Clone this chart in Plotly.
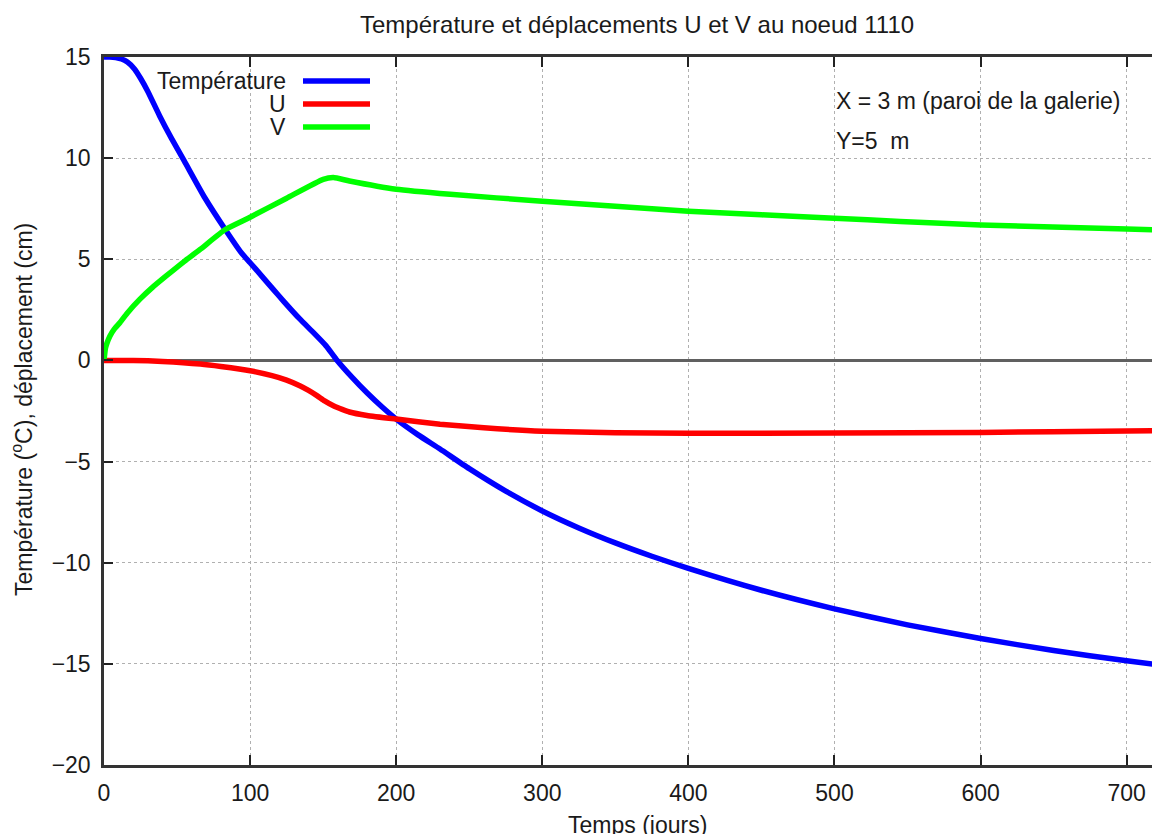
import plotly.graph_objects as go

# ---- data ----
days_T = [0, 4, 8, 12, 16, 21, 25, 30, 38, 46, 55, 69, 83, 94, 100, 108, 116, 123, 134,
          143, 152, 159, 170, 180, 190, 200, 215, 230, 250, 275, 300, 325, 350, 375, 400,
          450, 500, 550, 600, 650, 700, 723]
temperature = [15.0, 15.0, 14.97, 14.9, 14.75, 14.4, 13.95, 13.3, 12.1, 11.0, 9.85, 8.04,
               6.47, 5.32, 4.83, 4.17, 3.5, 2.92, 2.05, 1.4, 0.72, 0.05, -0.85, -1.6, -2.28,
               -2.9, -3.68, -4.38, -5.35, -6.46, -7.44, -8.28, -9.02, -9.68, -10.28,
               -11.36, -12.28, -13.07, -13.75, -14.34, -14.85, -15.06]

days_U = [0, 20, 40, 66, 80, 100, 115, 125, 134, 140, 146, 151, 157, 163, 168, 180, 200,
          230, 260, 300, 350, 400, 500, 600, 700, 723]
u_disp = [0.0, 0.0, -0.05, -0.18, -0.3, -0.51, -0.75, -0.97, -1.25, -1.48, -1.75, -2.0,
          -2.24, -2.42, -2.55, -2.72, -2.9, -3.15, -3.33, -3.5, -3.57, -3.6, -3.59, -3.56,
          -3.49, -3.48]

days_V = [0, 1, 2, 4, 7, 11, 16, 24.6, 33, 43, 55, 66, 83, 100, 125, 150, 157, 168, 200,
          237, 300, 350, 400, 450, 500, 545, 600, 700, 723]
v_disp = [0.0, 0.6, 0.85, 1.2, 1.55, 1.88, 2.35, 3.03, 3.6, 4.2, 4.9, 5.5, 6.47, 7.08,
          8.02, 8.95, 9.04, 8.87, 8.46, 8.21, 7.87, 7.62, 7.38, 7.2, 7.03, 6.87, 6.7, 6.5,
          6.44]

series_names = ["Température", "U", "V"]
series_colors = ["#0000ff", "#ff0000", "#00ff00"]

x_ticks = [0, 100, 200, 300, 400, 500, 600, 700]
y_ticks = [-20, -15, -10, -5, 0, 5, 10, 15]

FONT = "Liberation Sans, Arial, sans-serif"
FS = 23
TXT = "#1a1a1a"

fig = go.Figure()
for xs, ys, name, col in [(days_T, temperature, series_names[0], series_colors[0]),
                          (days_U, u_disp, series_names[1], series_colors[1]),
                          (days_V, v_disp, series_names[2], series_colors[2])]:
    fig.add_trace(go.Scatter(x=xs, y=ys, mode="lines", name=name,
                             line=dict(color=col, width=5.5, shape="spline", smoothing=0.5),
                             showlegend=False))

# page body has an 8px margin: the figure is placed at (8, 8) in the window
OFF = 8
W, H = 1160, 834
L, R, T, B = 96, 8, 49, 77
pw, ph = W - L - R, H - T - B


def px_x(p):  # window pixel -> paper x
    return (p - OFF - L) / pw


def px_y(p):  # window pixel -> paper y
    return (H - B - (p - OFF)) / ph


annotations = []
shapes = []
# legend (gnuplot style: text right-aligned, sample line to the right)
legend_rows = [81, 104, 127]
for name, col, yy in zip(series_names, series_colors, legend_rows):
    annotations.append(dict(text=name, x=px_x(288), y=px_y(yy), xref="paper", yref="paper",
                            xanchor="right", yanchor="middle", showarrow=False,
                            font=dict(family=FONT, size=FS, color=TXT)))
    shapes.append(dict(type="line", xref="paper", yref="paper",
                       x0=px_x(303), x1=px_x(370), y0=px_y(yy), y1=px_y(yy),
                       line=dict(color=col, width=5.5)))

annotations += [
    dict(text="X = 3 m (paroi de la galerie)", x=px_x(834), y=px_y(101), xref="paper",
         yref="paper", xanchor="left", yanchor="middle", showarrow=False,
         font=dict(family=FONT, size=FS, color=TXT)),
    dict(text="Y=5\u00a0 m", x=px_x(834), y=px_y(141), xref="paper",
         yref="paper", xanchor="left", yanchor="middle", showarrow=False,
         font=dict(family=FONT, size=FS, color=TXT)),
    dict(text="Température et déplacements U et V au noeud 1110", x=px_x(637), y=px_y(25),
         xref="paper", yref="paper", xanchor="center", yanchor="middle", showarrow=False,
         font=dict(family=FONT, size=24, color=TXT)),
    dict(text="Temps (jours)", x=px_x(637), y=px_y(825), xref="paper", yref="paper",
         xanchor="center", yanchor="middle", showarrow=False,
         font=dict(family=FONT, size=FS, color=TXT)),
    dict(text="Température (<sup>o</sup>C), déplacement (cm)", x=px_x(22), y=px_y(410),
         xref="paper", yref="paper", xanchor="center", yanchor="middle", showarrow=False,
         textangle=-90, font=dict(family=FONT, size=FS, color=TXT)),
]

fig.update_layout(
    width=W, height=H,
    margin=dict(l=L, r=R, t=T, b=B, pad=0),
    paper_bgcolor="white", plot_bgcolor="white",
    font=dict(family=FONT, size=FS, color=TXT),
    showlegend=False,
    annotations=annotations,
    shapes=shapes,
    xaxis=dict(range=[0, 722.8], tickvals=x_ticks, ticks="inside", ticklen=10,
               tickwidth=1.5, tickcolor="#222", showline=True, linecolor="#333",
               linewidth=2.5, mirror="ticks", showgrid=True, gridcolor="#b0b0b0",
               griddash="dot", gridwidth=1, zeroline=False,
               tickfont=dict(family=FONT, size=FS, color=TXT), ticklabelstandoff=6),
    yaxis=dict(range=[-20, 15], tickvals=y_ticks,
               ticktext=["\u221220", "\u221215", "\u221210", "\u22125", "0", "5", "10", "15"],
               ticks="inside", ticklen=9, tickwidth=1.5, tickcolor="#222",
               showline=True, linecolor="#333", linewidth=2.5, mirror=False,
               showgrid=True, gridcolor="#b0b0b0", griddash="dot", gridwidth=1,
               zeroline=True, zerolinecolor="#606060", zerolinewidth=2.5,
               tickfont=dict(family=FONT, size=FS, color=TXT), ticklabelstandoff=6),
)

fig.write_html("out.html")
